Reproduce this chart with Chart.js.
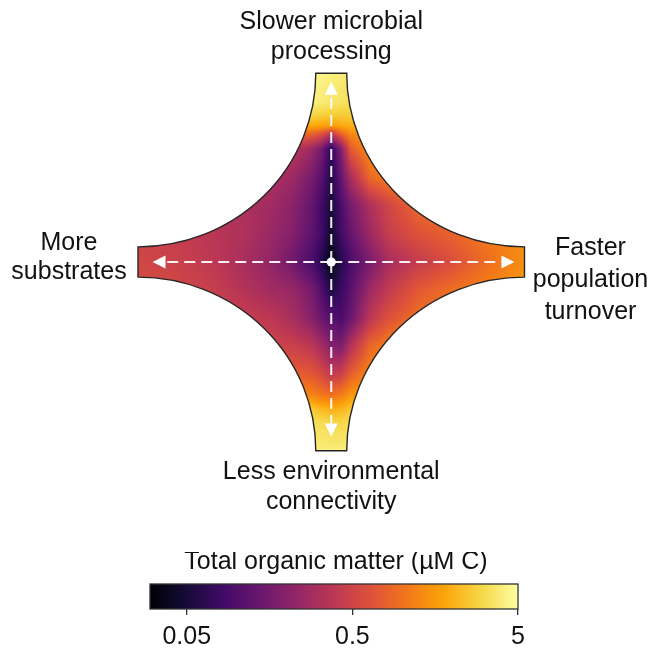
<!DOCTYPE html>
<html>
<head>
<meta charset="utf-8">
<script src="https://cdn.jsdelivr.net/npm/chart.js@4.4.1/dist/chart.umd.min.js"></script>
<style>
  html, body { margin: 0; padding: 0; background: #fff; }
  #wrap { position: relative; width: 655px; height: 652px; overflow: hidden; }
  #wrap canvas { position: absolute; left: 0; }
  #main { top: 0; }
  #bar { top: 552px; }
</style>
</head>
<body>
<div id="wrap">
  <canvas id="main" width="655" height="540"></canvas>
  <canvas id="bar" width="655" height="112"></canvas>
</div>
<script>
const FONT = '"Liberation Sans", Arial, Helvetica, sans-serif';

// Horizontal parameter axis: -1 = more substrates, +1 = faster population turnover
const colPos = [-1, -0.8, -0.6, -0.45, -0.3, -0.2, -0.1, -0.05, 0, 0.05, 0.1, 0.2, 0.3, 0.45, 0.6, 0.8, 1];
// Vertical parameter axis: +1 = slower microbial processing, -1 = less environmental connectivity
const rowPos = [1, 0.85, 0.78, 0.72, 0.68, 0.6, 0.45, 0.3, 0.15, 0, -0.15, -0.3, -0.45, -0.6, -0.7, -0.78, -0.85, -1];

// Total organic matter (µM C), one row per rowPos entry, one column per colPos entry
const tomGrid = [
  [4.1, 4.1, 4.1, 4.1, 4.1, 4.1, 4.3, 4.3, 4.1, 3.9, 3.7, 3.7, 3.7, 3.7, 3.7, 3.7, 3.7],
  [3.9, 3.9, 3.9, 3.9, 3.9, 3.9, 4.1, 3.9, 3.7, 3.5, 3.3, 3.3, 3.3, 3.3, 3.3, 3.3, 3.3],
  [3.0, 3.0, 3.0, 3.0, 3.0, 3.0, 3.0, 2.85, 2.7, 2.7, 2.7, 2.7, 2.7, 2.7, 2.7, 2.7, 2.7],
  [1.8, 1.8, 1.8, 1.8, 1.8, 1.8, 1.8, 1.7, 1.6, 1.8, 2.0, 2.1, 2.1, 2.1, 2.1, 2.1, 2.1],
  [0.88, 0.88, 0.88, 0.88, 0.88, 0.88, 0.83, 0.65, 0.39, 0.83, 1.32, 1.62, 1.62, 1.62, 1.62, 1.62, 1.62],
  [0.39, 0.39, 0.39, 0.39, 0.39, 0.39, 0.26, 0.16, 0.065, 0.18, 0.72, 1.39, 1.39, 1.39, 1.39, 1.39, 1.39],
  [0.35, 0.35, 0.35, 0.33, 0.30, 0.26, 0.16, 0.11, 0.055, 0.13, 0.30, 0.88, 1.19, 1.32, 1.32, 1.32, 1.32],
  [0.35, 0.35, 0.33, 0.32, 0.27, 0.21, 0.13, 0.083, 0.05, 0.092, 0.16, 0.32, 0.53, 0.88, 0.97, 0.97, 0.97],
  [0.48, 0.43, 0.37, 0.33, 0.245, 0.19, 0.12, 0.083, 0.045, 0.083, 0.13, 0.26, 0.45, 0.65, 0.79, 1.08, 1.39],
  [0.53, 0.48, 0.39, 0.30, 0.22, 0.15, 0.092, 0.061, 0.033, 0.061, 0.092, 0.17, 0.30, 0.43, 0.58, 0.92, 1.39],
  [0.58, 0.53, 0.45, 0.35, 0.27, 0.245, 0.16, 0.10, 0.055, 0.075, 0.11, 0.26, 0.43, 0.72, 0.92, 1.19, 1.62],
  [0.55, 0.53, 0.50, 0.45, 0.39, 0.30, 0.20, 0.14, 0.11, 0.092, 0.14, 0.39, 0.65, 0.97, 1.08, 1.19, 1.32],
  [0.58, 0.58, 0.55, 0.53, 0.50, 0.48, 0.39, 0.29, 0.20, 0.18, 0.35, 0.88, 1.19, 1.32, 1.32, 1.32, 1.32],
  [0.79, 0.79, 0.79, 0.79, 0.79, 0.79, 0.72, 0.58, 0.43, 0.50, 0.79, 1.32, 1.32, 1.32, 1.32, 1.32, 1.32],
  [1.32, 1.32, 1.32, 1.32, 1.32, 1.32, 1.19, 1.02, 0.92, 1.08, 1.47, 1.8, 1.8, 1.8, 1.8, 1.8, 1.8],
  [2.7, 2.7, 2.7, 2.7, 2.7, 2.7, 2.6, 2.2, 2.0, 2.1, 2.5, 2.6, 2.6, 2.6, 2.6, 2.6, 2.6],
  [3.3, 3.3, 3.3, 3.3, 3.3, 3.3, 3.3, 3.2, 3.0, 3.0, 3.2, 3.3, 3.3, 3.3, 3.3, 3.3, 3.3],
  [4.1, 4.1, 4.1, 4.1, 4.1, 4.1, 4.1, 4.0, 4.0, 4.0, 4.1, 4.1, 4.1, 4.1, 4.1, 4.1, 4.1]
];

// Colour bar range and ticks (µM C, log scale)
const cbMin = 0.03, cbMax = 5;
const tickValues = [0.05, 0.5, 5];
const tickLabels = ['0.05', '0.5', '5'];

const axisLabels = {
  top: ['Slower microbial', 'processing'],
  left: ['More', 'substrates'],
  right: ['Faster', 'population', 'turnover'],
  bottom: ['Less environmental', 'connectivity']
};
const barTitle = 'Total organic matter (\u00b5M C)';

// inferno colour map, stops every 0.1
const INFERNO = ['#000004', '#160b39', '#420a68', '#6a176e', '#932667', '#bc3754',
                 '#dd513a', '#f37819', '#fca50a', '#f6d746', '#fcffa4']
  .map(h => [parseInt(h.slice(1, 3), 16), parseInt(h.slice(3, 5), 16), parseInt(h.slice(5, 7), 16)]);

function inferno(t) {
  t = Math.max(0, Math.min(1, t));
  const n = INFERNO.length - 1;
  const f = t * n;
  const i = Math.min(n - 1, Math.floor(f));
  const k = f - i;
  const a = INFERNO[i], b = INFERNO[i + 1];
  return [a[0] + (b[0] - a[0]) * k, a[1] + (b[1] - a[1]) * k, a[2] + (b[2] - a[2]) * k];
}

const LMIN = Math.log10(cbMin), LMAX = Math.log10(cbMax);
const toT = lv => (lv - LMIN) / (LMAX - LMIN);
const logGrid = tomGrid.map(r => r.map(Math.log10));

// smooth (gouraud-style) shading of the grid in log space
function sampleLog(u, v) {
  let i = 0;
  while (i < colPos.length - 2 && u > colPos[i + 1]) i++;
  let j = 0;
  while (j < rowPos.length - 2 && v < rowPos[j + 1]) j++;
  const cl = x => Math.max(0, Math.min(1, x));
  const fu = cl((u - colPos[i]) / (colPos[i + 1] - colPos[i]));
  const fv = cl((v - rowPos[j]) / (rowPos[j + 1] - rowPos[j]));
  const a = logGrid[j][i] * (1 - fu) + logGrid[j][i + 1] * fu;
  const b = logGrid[j + 1][i] * (1 - fu) + logGrid[j + 1][i + 1] * fu;
  return a * (1 - fv) + b * fv;
}

const TIP = 0.08; // half width of each flat arm end

function starPath(ctx, xs, ys) {
  const px = v => xs.getPixelForValue(v), py = v => ys.getPixelForValue(v);
  const rx = Math.abs(px(1) - px(TIP)), ry = Math.abs(py(1) - py(TIP));
  const H = Math.PI / 2;
  ctx.beginPath();
  ctx.moveTo(px(-TIP), py(1));
  ctx.lineTo(px(TIP), py(1));
  ctx.ellipse(px(1), py(1), rx, ry, 0, Math.PI, H, true);
  ctx.lineTo(px(1), py(-TIP));
  ctx.ellipse(px(1), py(-1), rx, ry, 0, 3 * H, Math.PI, true);
  ctx.lineTo(px(-TIP), py(-1));
  ctx.ellipse(px(-1), py(-1), rx, ry, 0, 0, -H, true);
  ctx.lineTo(px(-1), py(TIP));
  ctx.ellipse(px(-1), py(1), rx, ry, 0, H, 0, true);
  ctx.closePath();
}

const fieldPlugin = {
  id: 'tomField',
  beforeDatasetsDraw(chart) {
    const { ctx, chartArea: ca, scales: { x, y } } = chart;
    const x0 = Math.floor(ca.left), y0 = Math.floor(ca.top);
    const W = Math.ceil(ca.right) - x0, Hh = Math.ceil(ca.bottom) - y0;
    const off = document.createElement('canvas');
    off.width = W; off.height = Hh;
    const octx = off.getContext('2d');
    const img = octx.createImageData(W, Hh);
    for (let j = 0; j < Hh; j++) {
      const v = y.getValueForPixel(y0 + j + 0.5);
      for (let i = 0; i < W; i++) {
        const u = x.getValueForPixel(x0 + i + 0.5);
        const c = inferno(toT(sampleLog(u, v)));
        const k = (j * W + i) * 4;
        img.data[k] = c[0]; img.data[k + 1] = c[1]; img.data[k + 2] = c[2]; img.data[k + 3] = 255;
      }
    }
    octx.putImageData(img, 0, 0);
    ctx.save();
    starPath(ctx, x, y);
    ctx.clip();
    ctx.drawImage(off, x0, y0);
    ctx.restore();

    ctx.save();
    starPath(ctx, x, y);
    ctx.lineWidth = 1.4;
    ctx.strokeStyle = '#262626';
    ctx.stroke();
    ctx.restore();
  },
  afterDatasetsDraw(chart) {
    const { ctx, scales: { x, y } } = chart;
    const cx = x.getPixelForValue(0), cy = y.getPixelForValue(0);
    const ends = [[0, 0.955], [0, -0.925], [-0.925, 0], [0.948, 0]];
    const HEAD = 13, HALF = 6.5;
    ctx.save();
    ctx.strokeStyle = 'rgba(255,255,255,0.93)';
    ctx.fillStyle = '#ffffff';
    ctx.lineWidth = 2;
    ends.forEach(([u, v]) => {
      const tx = x.getPixelForValue(u), ty = y.getPixelForValue(v);
      const dx = tx - cx, dy = ty - cy, L = Math.hypot(dx, dy);
      const ux = dx / L, uy = dy / L;
      const bx = tx - ux * HEAD, by = ty - uy * HEAD;
      ctx.setLineDash([11, 6]);
      ctx.beginPath();
      ctx.moveTo(cx, cy);
      ctx.lineTo(bx, by);
      ctx.stroke();
      ctx.setLineDash([]);
      ctx.beginPath();
      ctx.moveTo(tx, ty);
      ctx.lineTo(bx - uy * HALF, by + ux * HALF);
      ctx.lineTo(bx + uy * HALF, by - ux * HALF);
      ctx.closePath();
      ctx.fill();
    });
    ctx.beginPath();
    ctx.arc(cx, cy, 4.6, 0, Math.PI * 2);
    ctx.fill();
    ctx.restore();
  },
  afterDraw(chart) {
    const { ctx, scales: { x, y } } = chart;
    ctx.save();
    ctx.font = '25px ' + FONT;
    ctx.fillStyle = '#111';
    ctx.textAlign = 'center';
    ctx.textBaseline = 'middle';
    const put = (lines, cx, cy0, lh) => lines.forEach((s, i) => ctx.fillText(s, cx, cy0 + i * lh));
    const px = v => x.getPixelForValue(v), py = v => y.getPixelForValue(v);
    put(axisLabels.top, px(0), py(1) - 51, 30);
    put(axisLabels.left, px(-1) - 69, py(0) - 19, 29);
    put(axisLabels.right, px(1) + 66, py(0) - 14, 32);
    put(axisLabels.bottom, px(0), py(-1) + 21.3, 30);
    ctx.restore();
  }
};

const fieldPoints = [];
rowPos.forEach((v, r) => colPos.forEach((u, c) => fieldPoints.push({ x: u, y: v, tom: tomGrid[r][c] })));

new Chart(document.getElementById('main'), {
  type: 'scatter',
  data: { datasets: [{ label: 'Total organic matter', data: fieldPoints, pointRadius: 0, pointHoverRadius: 0 }] },
  options: {
    responsive: false,
    animation: false,
    events: [],
    layout: { padding: { left: 138, right: 130.5, top: 73.3, bottom: 89.3 } },
    scales: {
      x: { type: 'linear', min: -1, max: 1, display: false },
      y: { type: 'linear', min: -1, max: 1, display: false }
    },
    plugins: { legend: { display: false }, tooltip: { enabled: false } }
  },
  plugins: [fieldPlugin]
});

// colour bar: a strip along the bottom of the chart area, above the log axis
const BAR_H = 25;
const barPlugin = {
  id: 'colourBar',
  beforeDatasetsDraw(chart) {
    const { ctx, chartArea: ca, scales: { x } } = chart;
    const top = ca.bottom - BAR_H;
    const x0 = Math.floor(ca.left), x1 = Math.ceil(ca.right);
    for (let px = x0; px < x1; px++) {
      const val = x.getValueForPixel(px + 0.5);
      const c = inferno(toT(Math.log10(val)));
      ctx.fillStyle = 'rgb(' + c.map(Math.round).join(',') + ')';
      ctx.fillRect(px, top, 1, BAR_H);
    }
    ctx.save();
    ctx.strokeStyle = '#333';
    ctx.lineWidth = 1.3;
    ctx.strokeRect(ca.left, top, ca.right - ca.left, BAR_H);
    ctx.font = '25px ' + FONT;
    ctx.fillStyle = '#111';
    ctx.textAlign = 'center';
    ctx.textBaseline = 'middle';
    ctx.fillText(barTitle, (ca.left + ca.right) / 2 + 2, top - 22);
    ctx.restore();
  }
};

new Chart(document.getElementById('bar'), {
  type: 'scatter',
  data: { datasets: [{ data: [], pointRadius: 0 }] },
  options: {
    responsive: false,
    animation: false,
    events: [],
    layout: { padding: { left: 150, right: 137, top: 0, bottom: 5 } },
    scales: {
      x: {
        type: 'logarithmic', min: cbMin, max: cbMax, position: 'bottom',
        afterBuildTicks: s => { s.ticks = tickValues.map(v => ({ value: v })); },
        ticks: {
          autoSkip: false, maxRotation: 0, padding: 7, color: '#111',
          font: { family: FONT, size: 25 },
          callback: (v, i) => tickLabels[i]
        },
        grid: { drawOnChartArea: false, drawTicks: true, tickLength: 6, color: '#333', lineWidth: 1.3 },
        border: { display: false }
      },
      y: { min: 0, max: 1, display: false }
    },
    plugins: { legend: { display: false }, tooltip: { enabled: false } }
  },
  plugins: [barPlugin]
});
</script>
</body>
</html>
